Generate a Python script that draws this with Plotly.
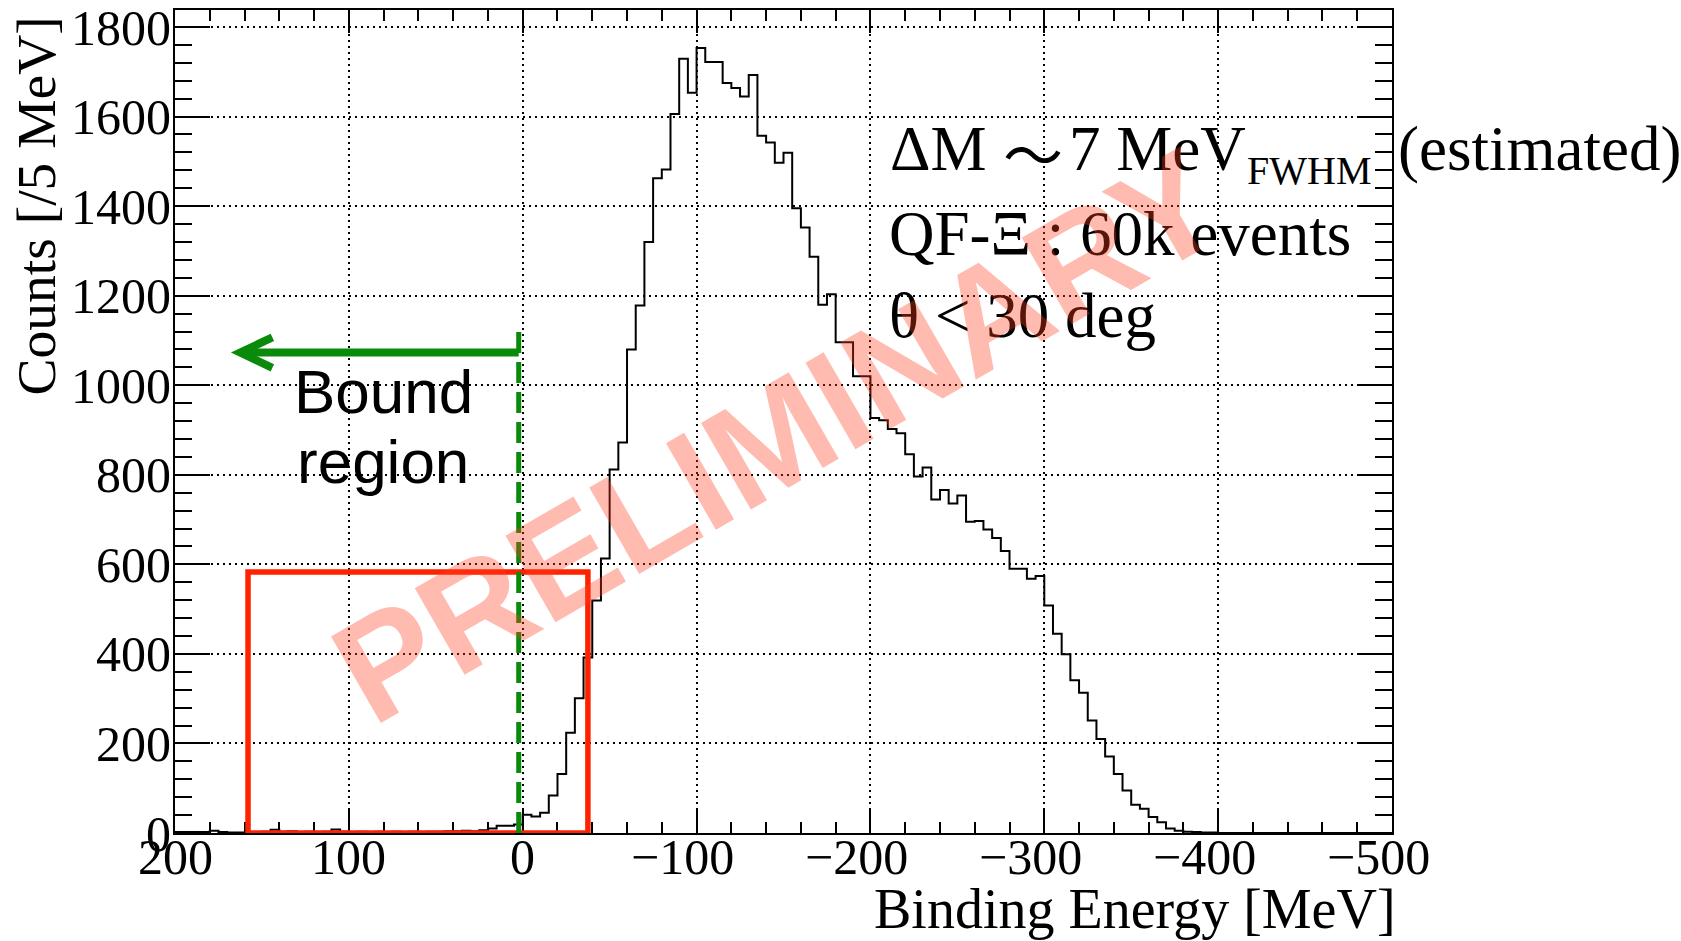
import plotly.graph_objects as go

# ---------------- data ----------------
bin_width = 5
x_max, x_min = 200, -500
# counts per 5 MeV bin, ordered from +200 MeV down to -500 MeV
counts_pos = [2, 2, 2, 2, 5, 2, 1, 1, 1, 2,
              3, 7, 3, 4, 2, 3, 2, 3, 8, 3,
              2, 3, 2, 3, 2, 3, 2, 3, 2, 3,
              3, 4, 4, 5, 4, 6, 10, 16, 16, 19]
counts_neg = [41, 37, 45, 84, 132, 224, 301, 392, 519, 613,
              812, 872, 1080, 1178, 1320, 1462, 1482, 1606, 1729, 1653,
              1753, 1722, 1722, 1675, 1664, 1645, 1693, 1557, 1542, 1497,
              1519, 1395, 1352, 1287, 1180, 1203, 1096, 1096, 1020, 1020,
              927, 922, 902, 893, 846, 796, 816, 745, 766, 736,
              754, 695, 697, 678, 659, 630, 590, 590, 568, 574,
              508, 445, 399, 341, 313, 251, 210, 171, 132, 95,
              63, 54, 36, 24, 10, 5, 3, 2, 1, 1,
              0, 0, 0, 0, 0, 0, 0, 0, 0, 0,
              0, 0, 0, 0, 0, 0, 0, 0, 0, 0]
counts = counts_pos + counts_neg

x_tick_vals = [200, 100, 0, -100, -200, -300, -400, -500]
x_tick_text = ["200", "100", "0", "\u2212100", "\u2212200", "\u2212300", "\u2212400", "\u2212500"]
y_tick_vals = [0, 200, 400, 600, 800, 1000, 1200, 1400, 1600, 1800]
y_tick_text = [str(v) for v in y_tick_vals]
y_max = 1838

# overlay geometry (data units)
box_x = [158, -37.5]
box_top = 583
bound_line_x = 2.3
bound_line_top = 1119
arrow_y = 1073
arrow_tip_x = 162.5

# ---------------- layout constants ----------------
W, H = 1681, 941
L, R, T, B = 175, 289, 10, 108
PW, PH = W - L - R, H - T - B
SERIF = "Liberation Serif, Times New Roman, serif"
SANS = "Liberation Sans, Arial, sans-serif"
GREEN = "#0a8a0a"


def px(xp):
    return (xp - L) / PW


def py(yp):
    return (H - B - yp) / PH


edges = [x_max - i * bin_width for i in range(len(counts) + 1)]
ys = counts + [counts[-1]]

fig = go.Figure()
fig.add_trace(go.Scatter(x=edges, y=ys, mode="lines",
                         line=dict(color="black", width=2, shape="hv"),
                         hoverinfo="skip", showlegend=False))

axis_common = dict(showline=True, linecolor="black", linewidth=2, mirror="allticks",
                   ticks="inside", tickcolor="black", tickwidth=2, automargin=False,
                   showgrid=True, gridcolor="black", griddash="2px,4px", gridwidth=2,
                   zeroline=False)

fig.update_xaxes(range=[x_max, x_min], tickvals=x_tick_vals, showticklabels=False,
                 ticklen=23,
                 minor=dict(dtick=20, ticklen=11, ticks="inside", tickcolor="black",
                            tickwidth=2, showgrid=False),
                 **axis_common)
fig.update_yaxes(range=[0, y_max], tickvals=y_tick_vals, ticktext=y_tick_text,
                 ticklen=35, ticklabelstandoff=-8, ticklabeloverflow="allow",
                 tickfont=dict(family=SERIF, size=50, color="black"),
                 minor=dict(dtick=40, ticklen=17, ticks="inside", tickcolor="black",
                            tickwidth=2, showgrid=False),
                 **axis_common)

# red box, green dashed line, arrow
fig.add_shape(type="rect", x0=box_x[0], x1=box_x[1], y0=0, y1=box_top,
              line=dict(color="#ff2200", width=5.5), layer="above")
fig.add_shape(type="line", x0=bound_line_x, x1=bound_line_x, y0=0, y1=bound_line_top,
              line=dict(color=GREEN, width=5, dash="21px,9px"), layer="above")
fig.add_shape(type="line", x0=bound_line_x, x1=arrow_tip_x - 1.5, y0=arrow_y, y1=arrow_y,
              line=dict(color=GREEN, width=8), layer="above")
head_dx = 18.5
head_dy = 34
fig.add_shape(type="path",
              path=f"M {arrow_tip_x - head_dx},{arrow_y + head_dy} L {arrow_tip_x},{arrow_y} L {arrow_tip_x - head_dx},{arrow_y - head_dy}",
              line=dict(color=GREEN, width=8), layer="above")

ann = []
# x tick labels (ROOT style: minus sign hangs left of centred digits)
for v, t in zip(x_tick_vals, x_tick_text):
    shift = -14 if t.startswith("\u2212") else 0
    ann.append(dict(x=v, xref="x", y=0, yref="paper", text=t, showarrow=False,
                    xanchor="center", yanchor="middle", xshift=shift, yshift=-24,
                    font=dict(family=SERIF, size=50, color="black")))

# axis titles
ann.append(dict(x=1, xref="paper", y=0, yref="paper", text="Binding Energy [MeV]",
                showarrow=False, xanchor="right", yanchor="middle", yshift=-76, xshift=6,
                font=dict(family=SERIF, size=56, color="black")))
ann.append(dict(x=px(36), xref="paper", y=py(15), yref="paper", text="Counts [/5 MeV]",
                showarrow=False, xanchor="center", yanchor="top", textangle=-90,
                font=dict(family=SERIF, size=55.5, color="black")))


def text_at(txt, left, baseline, size, family=SERIF, anchor="left"):
    centre = baseline - 0.3375 * size
    ann.append(dict(x=px(left), xref="paper", y=py(centre), yref="paper", text=txt,
                    showarrow=False, xanchor=anchor, yanchor="middle",
                    font=dict(family=family, size=size, color="black")))


text_at("\u0394M", 888, 170, 63)
text_at("\u301c", 1033, 172, 60, family="Noto Sans CJK JP", anchor="center")
text_at("7 MeV", 1067, 170, 63)
text_at("FWHM", 1245, 184, 40)
text_at("(estimated)", 1396, 170, 63)
text_at("QF-\u039e : 60k events", 887, 255, 63)
text_at("\u03b8 < 30 deg", 887, 337, 63)

# Bound region label
ann.append(dict(x=px(383), xref="paper", y=py(391), yref="paper", text="Bound",
                showarrow=False, xanchor="center", yanchor="middle",
                font=dict(family=SANS, size=62, color="black")))
ann.append(dict(x=px(383), xref="paper", y=py(461), yref="paper", text="region",
                showarrow=False, xanchor="center", yanchor="middle",
                font=dict(family=SANS, size=62, color="black")))

# watermark
ann.append(dict(x=px(778), xref="paper", y=py(436), yref="paper", text="<b>PRELIMINARY</b>",
                showarrow=False, xanchor="center", yanchor="middle", textangle=-30,
                font=dict(family=SANS, size=145, color="rgba(255,60,30,0.35)")))

fig.update_layout(width=W, height=H, margin=dict(l=L, r=R, t=T, b=B, pad=0),
                  paper_bgcolor="white", plot_bgcolor="white", annotations=ann,
                  showlegend=False)

fig.write_html("out.html")
